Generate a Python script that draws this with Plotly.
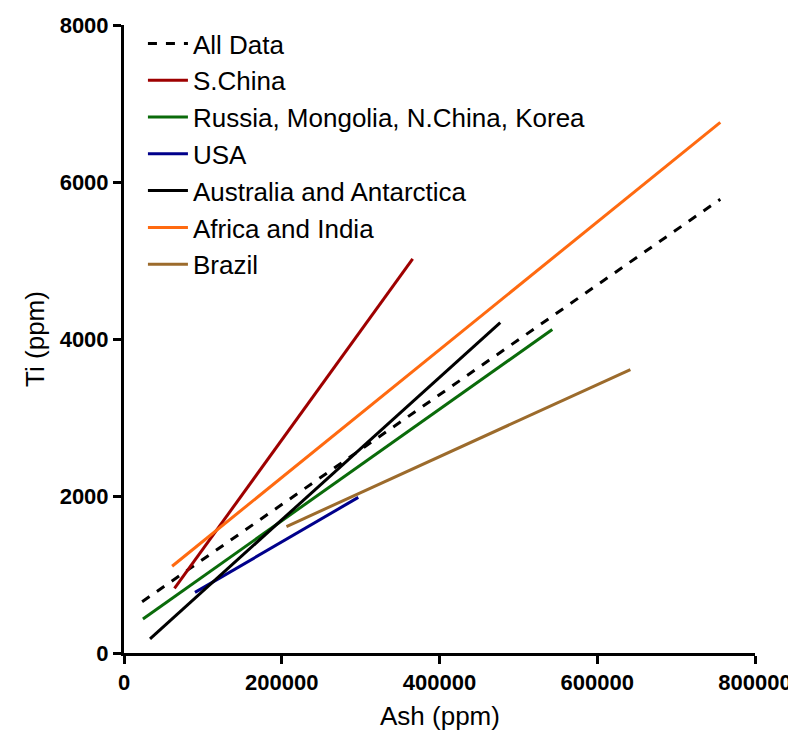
import plotly.graph_objects as go

groups = ["All Data", "S.China", "Russia, Mongolia, N.China, Korea", "USA",
          "Australia and Antarctica", "Africa and India", "Brazil"]
ash_start = [23000, 64000, 24000, 90000, 33000, 61000, 206000]
ash_end = [756000, 366000, 543000, 297000, 477000, 756000, 642000]
ti_start = [653, 823, 434, 772, 181, 1105, 1611]
ti_end = [5780, 5020, 4121, 1982, 4210, 6760, 3611]

colors = ["#000000", "#9e0000", "#0a6b0a", "#00008b", "#000000", "#ff6a10", "#9c6b2c"]
dashes = ["dash", "solid", "solid", "solid", "solid", "solid", "solid"]

x_ticks = [0, 200000, 400000, 600000, 800000]
y_ticks = [0, 2000, 4000, 6000, 8000]

FONT = "Arial, Liberation Sans, sans-serif"

fig = go.Figure()
for i, g in enumerate(groups):
    fig.add_trace(go.Scatter(
        x=[ash_start[i], ash_end[i]], y=[ti_start[i], ti_end[i]],
        mode="lines", name=g, legendgroup=g,
        line=dict(color=colors[i], width=3, dash=dashes[i]),
    ))

axis_common = dict(
    showgrid=False, zeroline=False, showline=True, linecolor="black", linewidth=3,
    ticks="outside", ticklen=8, tickwidth=3, tickcolor="black", automargin=False,
    ticklabeloverflow="allow",
    tickfont=dict(family=FONT, size=22, color="black", weight="bold"),
    title_font=dict(family=FONT, size=26, color="black"),
)

fig.update_layout(
    width=788, height=722,
    margin=dict(l=116, r=41, t=13, b=77),
    paper_bgcolor="white", plot_bgcolor="white",
    xaxis=dict(range=[0, 800000], tickvals=x_ticks, ticktext=[str(v) for v in x_ticks],
               **axis_common),
    yaxis=dict(range=[0, 8000], tickvals=y_ticks, ticktext=[str(v) for v in y_ticks],
               title=dict(text="Ti (ppm)", standoff=8), **axis_common),
    legend=dict(x=0.03, y=1.008, xanchor="left", yanchor="top",
                font=dict(family=FONT, size=26, color="black"),
                tracegroupgap=0, bgcolor="rgba(0,0,0,0)", itemwidth=40),
    showlegend=True,
    annotations=[dict(text="Ash (ppm)", x=0.5, y=0, xref="paper", yref="paper",
                      xanchor="center", yanchor="middle", yshift=-63, showarrow=False,
                      font=dict(family=FONT, size=26, color="black"))],
)

fig.write_html("out.html")
